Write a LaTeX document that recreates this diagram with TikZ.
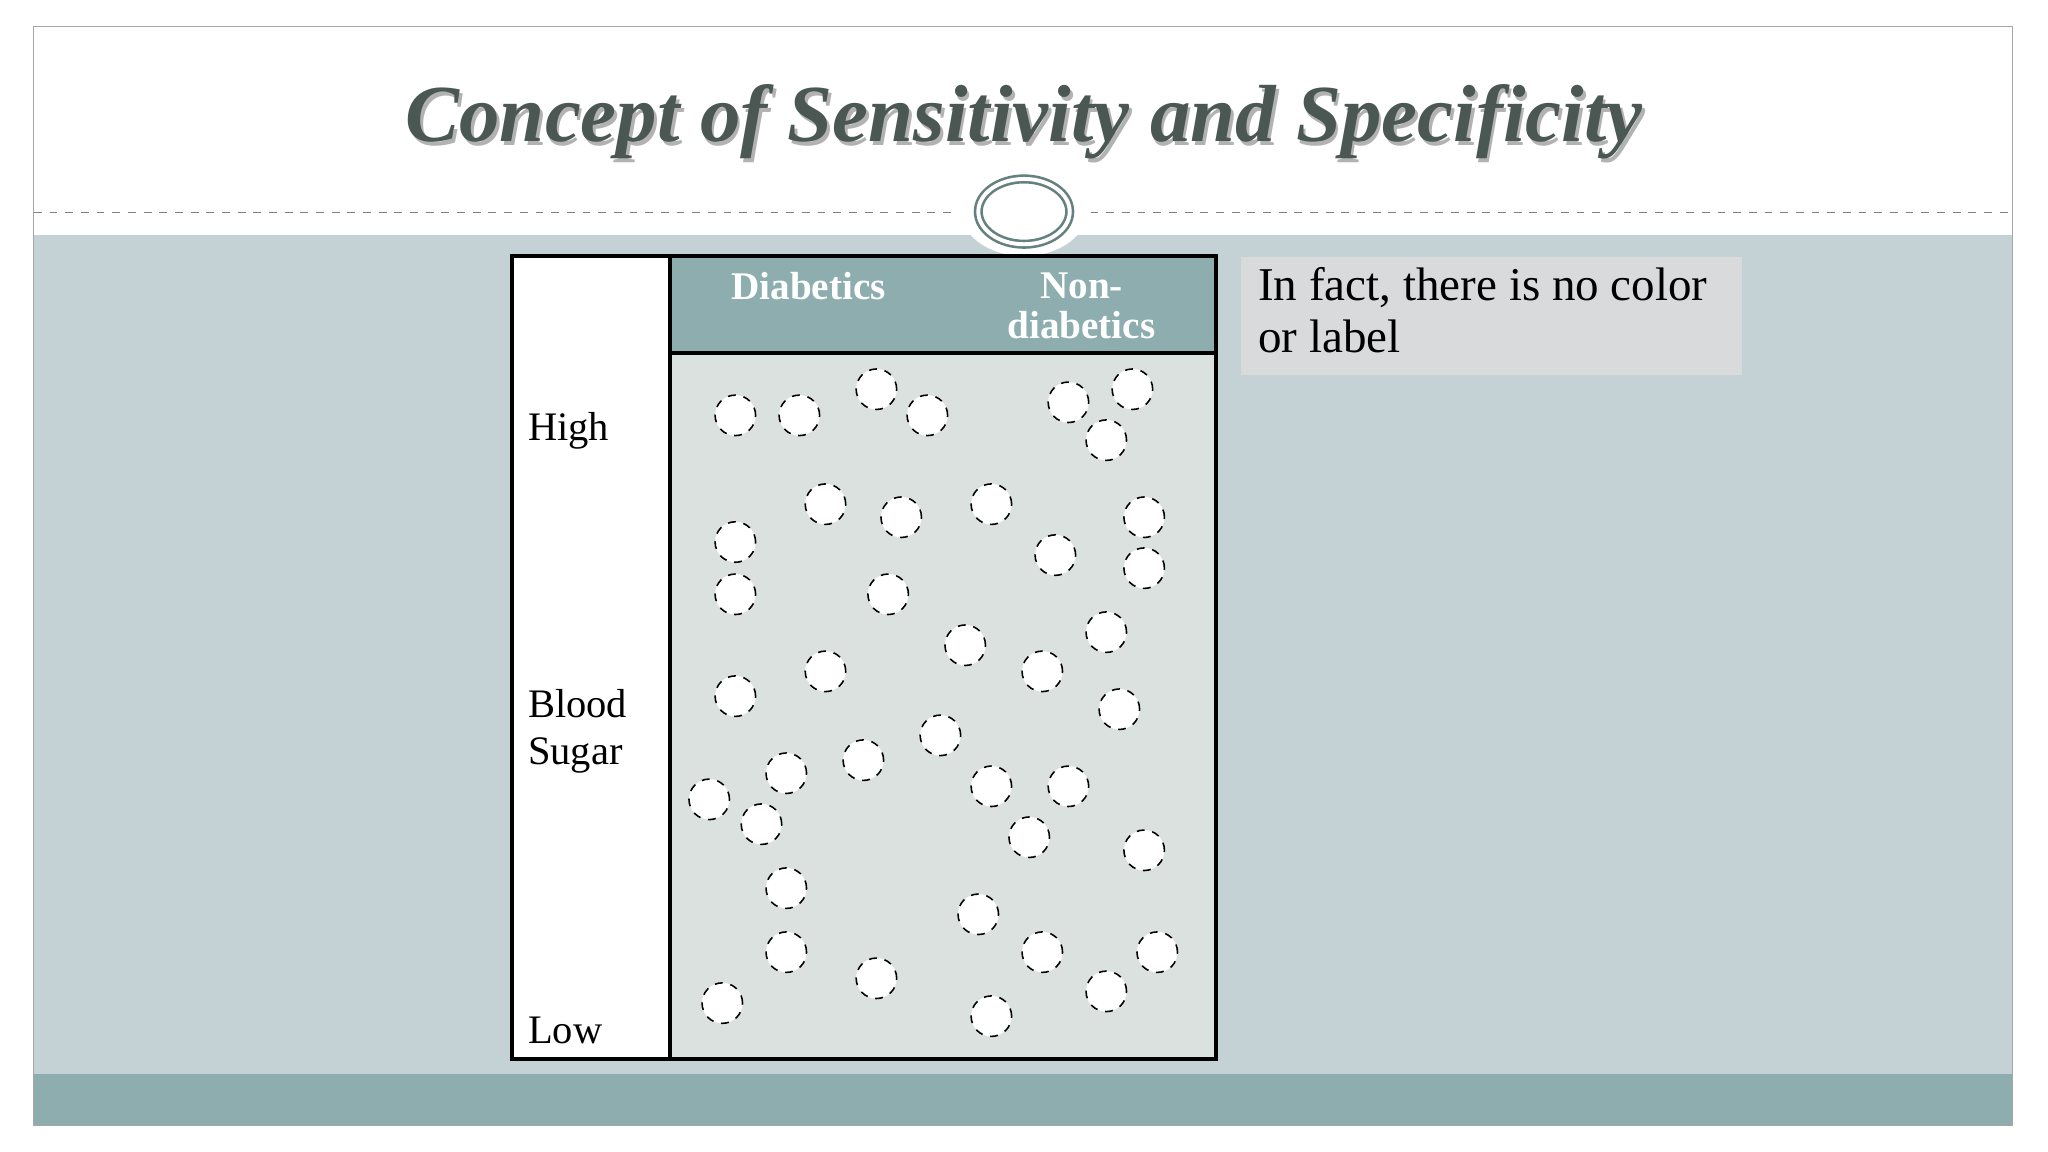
\documentclass[tikz,border=0pt]{standalone}
\usepackage{fontspec}
\setmainfont{Liberation Serif}
\usetikzlibrary{shapes.geometric}
\begin{document}
\begin{tikzpicture}[x=0.5pt,y=-0.5pt,
  dot/.style={circle,draw=black,dashed,fill=white,minimum size=15.5pt,inner sep=0pt,line width=0.6pt},
  lab/.style={anchor=west,font=\fontsize{15.5}{18}\selectfont,align=left,inner sep=0pt}]
\definecolor{band}{HTML}{C5D2D5}
\definecolor{dark}{HTML}{8DADAE}
\definecolor{body}{HTML}{DAE1DF}
\definecolor{tbox}{HTML}{D9DADB}
\definecolor{ttl}{HTML}{4A5753}
\useasboundingbox (0,0) rectangle (1568,882);
\fill[white] (0,0) rectangle (1568,882);
\fill[band] (26,180) rectangle (1541,822);
\fill[dark] (26,822) rectangle (1541,862);
\draw[gray!70] (26,20) rectangle (1541,862);
\draw[gray,dashed,line width=0.4pt] (26,163) -- (730,163);
\draw[gray,dashed,line width=0.4pt] (835,163) -- (1541,163);
\fill[white] (784,162) ellipse [x radius=48, y radius=34];
\node[ellipse,draw=gray!80!teal,line width=1pt,double=white,double distance=1.5pt,fill=white,minimum width=35pt,minimum height=25pt,inner sep=0pt] (ring) at (784,162) {};
\node[text=gray!60,font=\fontsize{31}{34}\selectfont\bfseries\itshape] at (786,96) {Concept of Sensitivity and Specificity};
\node[text=ttl,font=\fontsize{31}{34}\selectfont\bfseries\itshape] (title) at (784,93) {Concept of Sensitivity and Specificity};
% table
\fill[white] (392,196) rectangle (513,811);
\fill[body] (513,270) rectangle (931,811);
\fill[dark] (513,196) rectangle (931,270);
\draw[line width=1.5pt] (392,196) rectangle (931,811);
\draw[line width=1.5pt] (513,196) -- (513,811);
\draw[line width=1.5pt] (513,270) -- (931,270);
\node[text=white,font=\fontsize{15}{16}\selectfont\bfseries] (d) at (619,219) {Diabetics};
\node[text=white,font=\fontsize{15}{15.5}\selectfont\bfseries,align=center] (nd) at (828,234) {Non-\\diabetics};
\node[lab] (hi) at (404,330) {High};
\node[lab,font=\fontsize{15.5}{18}\selectfont] (bs) at (404,560) {Blood\\Sugar};
\node[lab] (lo) at (404,789) {Low};
\node[fill=tbox,minimum width=191.5pt,minimum height=45.5pt,anchor=north west,inner sep=0pt] (tb) at (950,196) {};
\node[anchor=north west,align=left,font=\fontsize{18}{20}\selectfont,inner sep=0pt] (tt) at (963,204) {In fact, there is no color\\or label};
\foreach \x/\y [count=\i] in {563/318,612/318,671/298,710/318,818/308,867/298,847/337,
632/386,690/396,759/386,876/396,563/415,808/425,876/435,563/455,680/455,
739/494,847/484,632/514,798/514,563/533,857/543,
720/563,661/582,602/592,759/602,818/602,543/612,583/631,788/641,876/651,
602/680,749/700,602/729,798/729,886/729,671/749,847/759,553/768,759/778}
  \node[dot] (c\i) at (\x,\y) {};
\end{tikzpicture}
\end{document}
